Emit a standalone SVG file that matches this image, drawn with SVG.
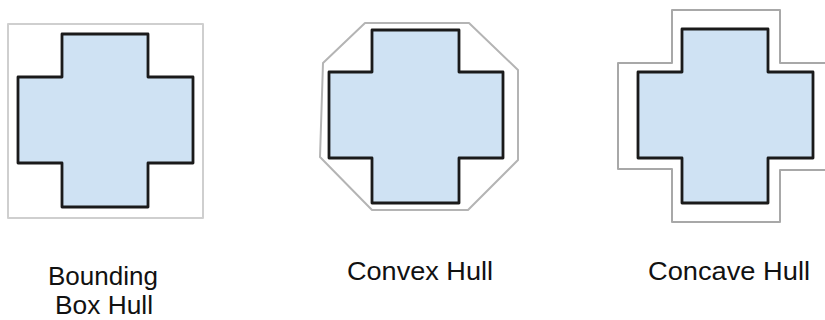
<svg xmlns="http://www.w3.org/2000/svg" width="825" height="320" viewBox="0 0 825 320">
<style>
.shape{fill:#cfe2f3;stroke:#1a1a1a;stroke-width:2.8;stroke-linejoin:round}
.hull{fill:none;stroke:#b4b4b4;stroke-width:2;stroke-linejoin:round}
.lbl{font-family:"Liberation Sans",Arial,sans-serif;font-size:26px;fill:#111;text-anchor:middle}
</style>
<rect width="825" height="320" fill="#fff"/>
<g id="bounding-box-hull">
<rect class="hull" x="8" y="24" width="195" height="194" style="stroke:#cfcfcf"/>
<path class="shape" d="M62,34 H148 V77 H193 V163 H148 V207 H62 V163 H18 V77 H62 Z"/>
<text class="lbl" x="103" y="285" textLength="110" lengthAdjust="spacingAndGlyphs">Bounding</text>
<text class="lbl" x="104" y="314" textLength="98" lengthAdjust="spacingAndGlyphs">Box Hull</text>
</g>
<g id="convex-hull">
<polygon class="hull" points="365,23 469,23 518,70 518,160 468,210 372,210 320,157 323,63"/>
<path class="shape" d="M372,30 H459 V72 H503 V158 H459 V203 H372 V158 H329 V72 H372 Z"/>
<text class="lbl" x="420" y="280" textLength="146" lengthAdjust="spacingAndGlyphs">Convex Hull</text>
</g>
<g id="concave-hull">
<path class="hull" style="stroke:#a8a8a8" d="M840,63 H780 V10 H672 V63 H618 V169 H672 V222 H780 V170 H840"/>
<path class="shape" d="M682,29 H768 V72 H813 V158 H768 V203 H682 V158 H638 V72 H682 Z"/>
<text class="lbl" x="729" y="280" textLength="162" lengthAdjust="spacingAndGlyphs">Concave Hull</text>
</g>
<g id="connectors"/>
</svg>
